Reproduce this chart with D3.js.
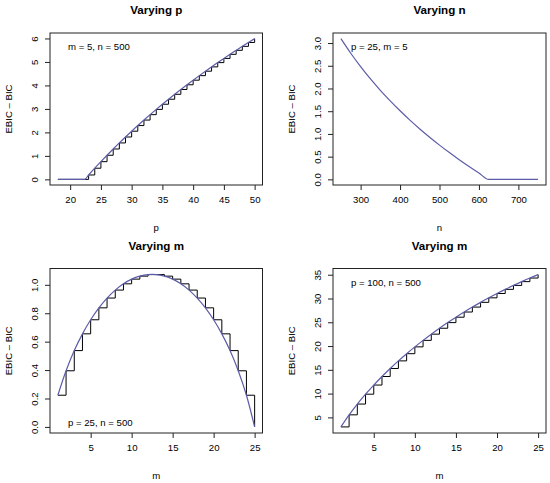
<!DOCTYPE html>
<html>
<head>
<meta charset="utf-8">
<script src="https://cdn.jsdelivr.net/npm/d3@7"></script>
<style>
body { margin: 0; background: #fff; }
text { font-family: "Liberation Sans", Arial, Helvetica, sans-serif; }
</style>
</head>
<body>
<svg id="chart" width="550" height="483"></svg>
<script>

//////////////////////////////////////////////////////////////////////////////
// Data

// Varying p (m = 5, n = 500)
var pValues = [18, 19, 20, 21, 22, 23, 24, 25, 26, 27, 28, 29, 30, 31, 32, 33, 34,
               35, 36, 37, 38, 39, 40, 41, 42, 43, 44, 45, 46, 47, 48, 49, 50];
var pDiff = [0, 0, 0, 0, 0, 0.187, 0.475, 0.754, 1.027, 1.293, 1.552, 1.804, 2.051,
             2.291, 2.526, 2.755, 2.980, 3.199, 3.413, 3.622, 3.827, 4.028, 4.224,
             4.417, 4.606, 4.790, 4.972, 5.150, 5.325, 5.496, 5.665, 5.830, 5.993];
var pKink = [22.36, 0];   // where the smooth curve leaves zero

// Varying n (p = 25, m = 5)
var nValues = [250, 275, 300, 325, 350, 375, 400, 425, 450, 475, 500, 525, 550,
               575, 600, 625, 650, 675, 700, 725, 750];
var nDiff = [3.097, 2.775, 2.481, 2.210, 1.960, 1.727, 1.509, 1.304, 1.110, 0.928,
             0.754, 0.589, 0.432, 0.282, 0.138, 0, 0, 0, 0, 0, 0];

// Varying m (p = 25, n = 500) and (p = 100, n = 500)
var mValues = [1, 2, 3, 4, 5, 6, 7, 8, 9, 10, 11, 12, 13, 14, 15, 16, 17, 18, 19,
               20, 21, 22, 23, 24, 25];
var mDiff25 = [0.223, 0.395, 0.537, 0.655, 0.754, 0.838, 0.907, 0.963, 1.007,
               1.040, 1.061, 1.072, 1.072, 1.061, 1.040, 1.007, 0.963, 0.907,
               0.838, 0.754, 0.655, 0.537, 0.395, 0.223, 0];
var mDiff100 = [2.996, 5.534, 7.802, 9.876, 11.798, 13.595, 15.285, 16.881, 18.393,
                19.829, 21.197, 22.500, 23.744, 24.933, 26.069, 27.155, 28.194,
                29.189, 30.140, 31.050, 31.920, 32.752, 33.546, 34.304, 35.028];

// tick values
var pTicks = [20, 25, 30, 35, 40, 45, 50];
var pYTicks = [0, 1, 2, 3, 4, 5, 6];
var nTicks = [300, 400, 500, 600, 700];
var nYTicks = [0, 0.5, 1, 1.5, 2, 2.5, 3];
var mTicks = [5, 10, 15, 20, 25];
var m25YTicks = [0, 0.2, 0.4, 0.6, 0.8, 1.0];
var m100YTicks = [5, 10, 15, 20, 25, 30, 35];

//////////////////////////////////////////////////////////////////////////////
// Global variables, preliminaries

var svg = d3.select("#chart");
var curveColor = "#5c5ca8";
var tickFont = 9.6;
var titleFont = 11.6;

function padExtent(ext) {
    var r = ext[1] - ext[0];
    return [ext[0] - 0.04 * r, ext[1] + 0.04 * r];
}

function zip(xs, ys) {
    return xs.map(function(v, i) { return [v, ys[i]]; });
}

function drawPanel(cfg) {
    var b = cfg.box;   // [left, right, top, bottom]
    var g = svg.append("g");
    var x = d3.scaleLinear().domain(padExtent(d3.extent(cfg.xs))).range([b[0], b[1]]);
    var y = d3.scaleLinear().domain(padExtent(d3.extent(cfg.ys))).range([b[3], b[2]]);

    var xAxis = g.append("g")
        .attr("transform", "translate(0," + b[3] + ")")
        .call(d3.axisBottom(x).tickValues(cfg.xTicks).tickSize(5).tickPadding(6)
              .tickFormat(d3.format("d")));
    var yAxis = g.append("g")
        .attr("transform", "translate(" + b[0] + ",0)")
        .call(d3.axisLeft(y).tickValues(cfg.yTicks).tickSize(5)
              .tickFormat(d3.format(cfg.yFormat)));

    [xAxis, yAxis].forEach(function(a) {
        a.select(".domain").remove();
        a.selectAll("line").attr("stroke", "#222");
        a.selectAll("text").attr("fill", "#000").style("font-size", tickFont + "px")
            .attr("font-family", null);
    });
    xAxis.selectAll("text").attr("dy", "0.71em");
    yAxis.selectAll("text")
        .attr("x", null).attr("dy", "0.35em")
        .attr("text-anchor", "middle")
        .attr("transform", "translate(-15,0) rotate(-90)");

    var line = d3.line()
        .x(function(d) { return x(d[0]); })
        .y(function(d) { return y(d[1]); });

    var pts = zip(cfg.xs, cfg.ys);
    if (cfg.steps) {
        g.append("path")
            .attr("d", line.curve(d3.curveStepAfter)(pts))
            .attr("fill", "none")
            .attr("stroke", "#000")
            .attr("stroke-width", 1);
    }
    var cpts = cfg.curvePts || pts;
    g.append("path")
        .attr("d", line.curve(cfg.curve)(cpts))
        .attr("fill", "none")
        .attr("stroke", curveColor)
        .attr("stroke-width", 1.2);

    g.append("rect")
        .attr("x", b[0]).attr("y", b[2])
        .attr("width", b[1] - b[0]).attr("height", b[3] - b[2])
        .attr("fill", "none").attr("stroke", "#222").attr("stroke-width", 1);

    var cx = (b[0] + b[1]) / 2;
    g.append("text")
        .attr("x", cx).attr("y", b[2] - 19)
        .attr("text-anchor", "middle")
        .style("font-size", titleFont + "px").style("font-weight", "bold")
        .text(cfg.title);
    g.append("text")
        .attr("x", cx).attr("y", b[3] + 46)
        .attr("text-anchor", "middle")
        .style("font-size", tickFont + "px")
        .text(cfg.xLabel);
    g.append("text")
        .attr("transform", "translate(" + (b[0] - 41 + 3.4) + "," + ((b[2] + b[3]) / 2) + ") rotate(-90)")
        .attr("text-anchor", "middle")
        .style("font-size", tickFont + "px")
        .text("EBIC \u2013 BIC");
    g.append("text")
        .attr("x", b[0] + 18)
        .attr("y", cfg.noteBottom ? b[3] - 10 : b[2] + 14)
        .attr("dy", "0.35em")
        .style("font-size", tickFont + "px")
        .text(cfg.note);
}

//////////////////////////////////////////////////////////////////////////////

var pCurve = zip(pValues, pDiff);
pCurve.splice(5, 0, pKink);

drawPanel({
    box: [50, 262.5, 33, 185], xs: pValues, ys: pDiff,
    xTicks: pTicks, yTicks: pYTicks, yFormat: "d",
    steps: true, curve: d3.curveMonotoneX, curvePts: pCurve,
    title: "Varying p", xLabel: "p", note: "m = 5, n = 500"
});

drawPanel({
    box: [333, 546, 33, 185], xs: nValues, ys: nDiff,
    xTicks: nTicks, yTicks: nYTicks, yFormat: ".1f",
    steps: false, curve: d3.curveMonotoneX,
    title: "Varying n", xLabel: "n", note: "p = 25, m = 5"
});

drawPanel({
    box: [50, 262.5, 268.5, 433], xs: mValues, ys: mDiff25,
    xTicks: mTicks, yTicks: m25YTicks, yFormat: ".1f",
    steps: true, curve: d3.curveCatmullRom,
    title: "Varying m", xLabel: "m", note: "p = 25, n = 500", noteBottom: true
});

drawPanel({
    box: [333, 546, 268.5, 433], xs: mValues, ys: mDiff100,
    xTicks: mTicks, yTicks: m100YTicks, yFormat: "d",
    steps: true, curve: d3.curveCatmullRom,
    title: "Varying m", xLabel: "m", note: "p = 100, n = 500"
});

</script>
</body>
</html>
